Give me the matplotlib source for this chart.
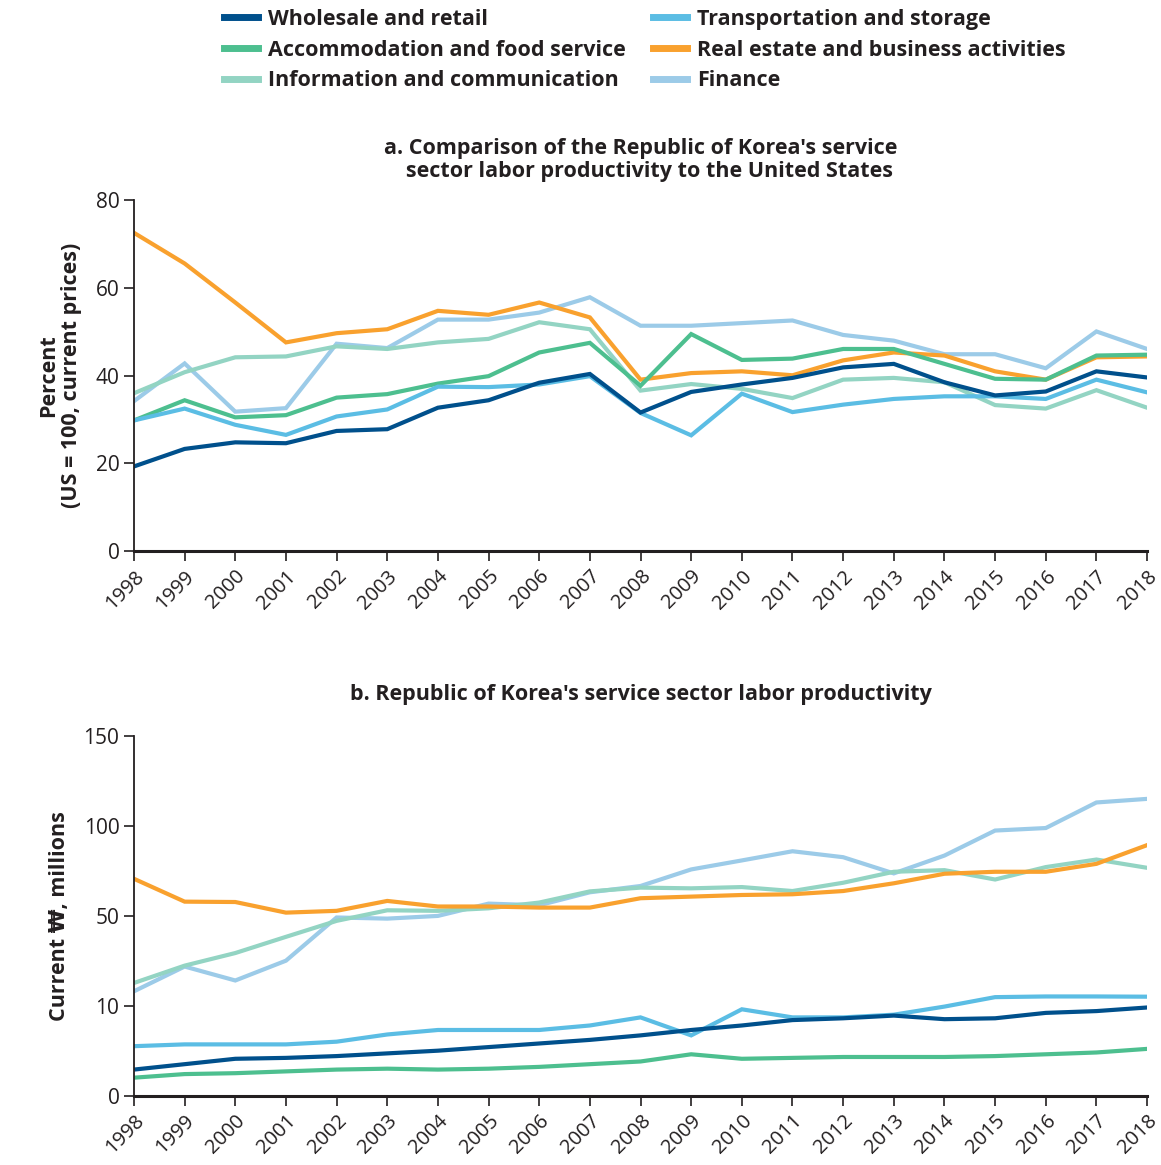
import numpy as np
import matplotlib
matplotlib.use("Agg")
import matplotlib.pyplot as plt
from matplotlib.lines import Line2D

plt.rcParams['font.family'] = ['Open Sans', 'DejaVu Sans']

years = list(range(1998, 2019))
series_names = ['Wholesale and retail', 'Transportation and storage',
                'Accommodation and food service', 'Real estate and business activities',
                'Information and communication', 'Finance']
colors = ['#00508c', '#5bbde4', '#4dbf8f', '#f9a12e', '#93d4c3', '#9ccbe8']

# a. percent of US productivity
wholesale_a = [19.3, 23.3, 24.8, 24.6, 27.4, 27.8, 32.7, 34.4, 38.4, 40.4, 31.6,
               36.3, 38.0, 39.5, 41.9, 42.7, 38.5, 35.5, 36.4, 41.0, 39.6]
transport_a = [29.8, 32.5, 28.8, 26.5, 30.7, 32.3, 37.5, 37.4, 38.0, 39.9, 31.5,
               26.4, 35.9, 31.7, 33.4, 34.7, 35.3, 35.3, 34.7, 39.1, 36.2]
accom_a = [29.8, 34.4, 30.5, 31.0, 35.0, 35.8, 38.2, 39.9, 45.3, 47.5, 37.7,
           49.5, 43.6, 43.9, 46.1, 46.1, 42.7, 39.3, 39.1, 44.6, 44.8]
realestate_a = [72.6, 65.6, 56.7, 47.6, 49.7, 50.6, 54.8, 53.9, 56.7, 53.3, 39.1,
                40.6, 41.0, 40.1, 43.5, 45.3, 44.6, 41.0, 39.1, 44.2, 44.4]
info_a = [36.0, 40.8, 44.2, 44.4, 46.7, 46.1, 47.6, 48.4, 52.2, 50.6, 36.6,
          38.1, 37.0, 34.9, 39.1, 39.5, 38.5, 33.3, 32.5, 36.7, 32.7]
finance_a = [34.2, 42.8, 31.8, 32.6, 47.3, 46.3, 52.8, 52.8, 54.4, 57.9, 51.4,
             51.4, 52.0, 52.6, 49.3, 48.0, 44.9, 44.9, 41.7, 50.1, 46.1]

# b. current won, millions
wholesale_b = [2.9, 3.5, 4.1, 4.2, 4.4, 4.7, 5.0, 5.4, 5.8, 6.2, 6.7,
               7.3, 7.8, 8.4, 8.6, 8.9, 8.5, 8.6, 9.2, 9.4, 9.8]
transport_b = [5.5, 5.7, 5.7, 5.7, 6.0, 6.8, 7.3, 7.3, 7.3, 7.8, 8.7,
               6.7, 9.6, 8.7, 8.7, 9.0, 9.9, 13.8, 14.1, 14.1, 14.0]
accom_b = [2.0, 2.4, 2.5, 2.7, 2.9, 3.0, 2.9, 3.0, 3.2, 3.5, 3.8,
           4.6, 4.1, 4.2, 4.3, 4.3, 4.3, 4.4, 4.6, 4.8, 5.2]
realestate_b = [70.5, 57.8, 57.6, 51.7, 52.7, 58.2, 55.1, 55.1, 54.5, 54.5, 59.7,
                60.6, 61.5, 61.9, 63.7, 68.0, 73.3, 74.4, 74.4, 78.8, 89.2]
info_b = [20.1, 27.8, 33.4, 40.6, 47.7, 53.0, 52.7, 54.1, 57.3, 63.5, 65.6,
          65.2, 65.9, 63.7, 68.3, 74.4, 75.3, 70.1, 77.0, 81.2, 76.6]
finance_b = [16.4, 27.4, 21.2, 30.0, 49.2, 48.7, 49.9, 56.7, 55.8, 63.0, 66.5,
             75.7, 80.7, 85.8, 82.5, 73.5, 83.4, 97.3, 98.7, 112.9, 114.9]

data_a = [wholesale_a, transport_a, accom_a, realestate_a, info_a, finance_a]
data_b = [wholesale_b, transport_b, accom_b, realestate_b, info_b, finance_b]

# bottom panel uses an uneven axis: 0-10-50-100-150 equally spaced
brk_vals = [0, 10, 50, 100, 150]
brk_pos = [0, 1, 2, 3, 4]
fwd = lambda v: np.interp(v, brk_vals, brk_pos)
inv = lambda p: np.interp(p, brk_pos, brk_vals)

dark = '#231f20'
draw_order = [5, 4, 3, 2, 1, 0]

fig = plt.figure(figsize=(11.61, 11.65), dpi=100)
ax1 = fig.add_axes([0.1154, 0.527, 0.8726, 0.301])
ax2 = fig.add_axes([0.1154, 0.0595, 0.8726, 0.309])

for i in draw_order:
    ax1.plot(years, data_a[i], color=colors[i], lw=3.0, solid_joinstyle='miter')
    ax2.plot(years, data_b[i], color=colors[i], lw=3.0, solid_joinstyle='miter')

ax1.set_ylim(0, 80)
ax1.set_yticks([0, 20, 40, 60, 80])
ax1.set_ylabel('Percent\n(US = 100, current prices)', fontsize=15.5, fontweight='bold',
               color=dark, labelpad=10, linespacing=1.1)
ax1.set_title("a. Comparison of the Republic of Korea's service\n   sector labor productivity to the United States",
              fontsize=15.5, fontweight='bold', color=dark, pad=17, linespacing=1.12)

ax2.set_yscale('function', functions=(fwd, inv))
ax2.set_ylim(0, 150)
ax2.set_yticks(brk_vals)
ax2.set_yticklabels([str(v) for v in brk_vals])
ax2.minorticks_off()
ax2.set_ylabel('Current \u20a9, millions', fontsize=15.5, fontweight='bold', color=dark, labelpad=10)
ax2.set_title("b. Republic of Korea's service sector labor productivity",
              fontsize=15.5, fontweight='bold', color=dark, pad=26)

for ax in (ax1, ax2):
    ax.set_xlim(1998, 2018)
    ax.set_xticks(years)
    ax.set_xticklabels([str(y) for y in years], rotation=45, ha='right',
                       rotation_mode='anchor', fontsize=14.5, color=dark)
    ax.tick_params(axis='x', length=7, width=1.2, color=dark, pad=4)
    ax.tick_params(axis='y', length=7, width=1.2, color=dark, labelsize=15, labelcolor=dark)
    for s in ('top', 'right'):
        ax.spines[s].set_visible(False)
    for s in ('left', 'bottom'):
        ax.spines[s].set_color(dark)
    ax.spines['left'].set_linewidth(1.3)
    ax.spines['bottom'].set_linewidth(2.2)

legend_order = [0, 2, 4, 1, 3, 5]
handles = [Line2D([], [], color=colors[i], lw=5) for i in legend_order]
labels = [series_names[i] for i in legend_order]
fig.legend(handles, labels, loc='upper left', bbox_to_anchor=(0.176, 1.009), ncol=2,
           frameon=False, prop={'size': 15.5, 'weight': 'bold'}, handlelength=1.6,
           handletextpad=0.45, columnspacing=1.25, labelspacing=0.45, labelcolor=dark)

fig.savefig('out.png', dpi=100, facecolor='white')
